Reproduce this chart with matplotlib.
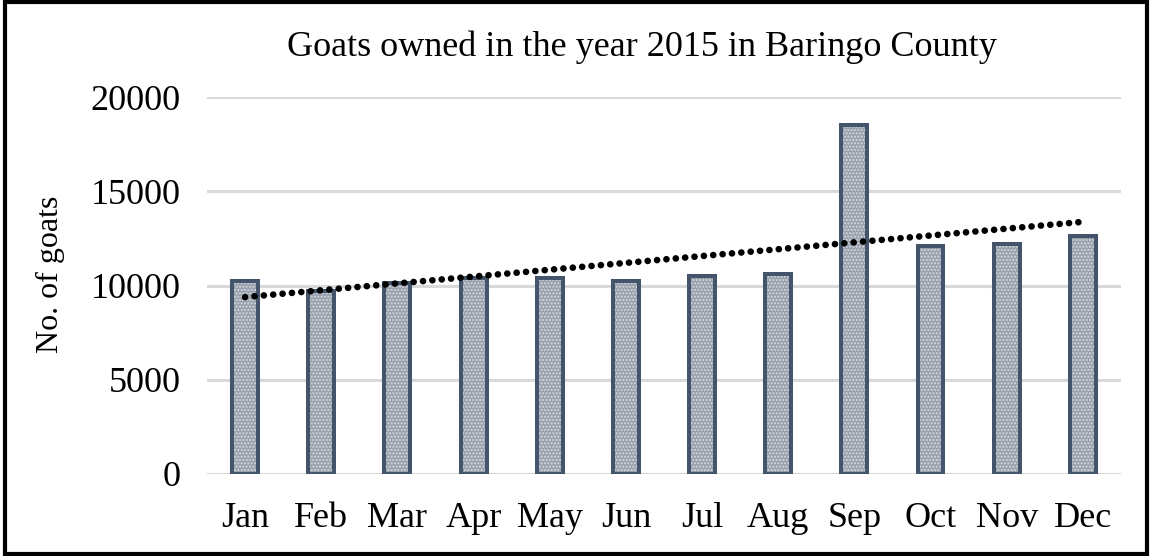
import numpy as np
import matplotlib.pyplot as plt
from matplotlib.patches import Rectangle

# monthly goat counts
months = ['Jan', 'Feb', 'Mar', 'Apr', 'May', 'Jun', 'Jul', 'Aug', 'Sep', 'Oct', 'Nov', 'Dec']
goats = [10240, 9700, 10150, 10400, 10380, 10255, 10500, 10610, 18500, 12100, 12200, 12625]
y_ticks = [0, 5000, 10000, 15000, 20000]

plt.rcParams['font.family'] = ['Liberation Serif', 'DejaVu Serif']

fig = plt.figure(figsize=(11.52, 5.56), dpi=100)
ax = fig.add_axes([0.1797, 0.1475, 0.7933, 0.678])

x = np.arange(len(months))

# grid lines behind bars
ax.set_axisbelow(True)
ax.yaxis.grid(True, color='#d9d9d9', linewidth=2.2)

# bar fill with fine dotted pattern, then the dark outline
ax.bar(x, goats, width=0.34, color='#98a0ac', edgecolor='#d6dae0', hatch='.....', linewidth=0, zorder=2)
ax.bar(x, goats, width=0.34, fill=False, edgecolor='#44546a', linewidth=2.9, zorder=3)

# linear trendline (dotted)
k, b = np.polyfit(x, goats, 1)
ax.plot(x, k * x + b - 90, color='black', linewidth=4.8,
        linestyle=(0, (0.01, 1.4)), dash_capstyle='round', zorder=4)

ax.set_xlim(-0.5, len(months) - 0.5)
ax.set_ylim(0, 20000)
ax.set_yticks(y_ticks)
ax.set_xticks(x)
ax.set_xticklabels(months)
ax.tick_params(axis='both', length=0, labelsize=26)
ax.tick_params(axis='y', pad=19)
ax.tick_params(axis='x', pad=20)
for s in ax.spines.values():
    s.set_visible(False)

fig.text(0.557, 0.915, 'Goats owned in the year 2015 in Baringo County',
         ha='center', va='center', fontsize=26)
fig.text(0.044, 0.507, 'No. of goats', rotation=90, ha='center', va='center', fontsize=23)

# black frame around the whole chart
fig.patches.append(Rectangle((0.004, 0.004), 0.992, 0.992, transform=fig.transFigure,
                             fill=False, edgecolor='black', linewidth=3))

fig.savefig('out.png', dpi=100)
